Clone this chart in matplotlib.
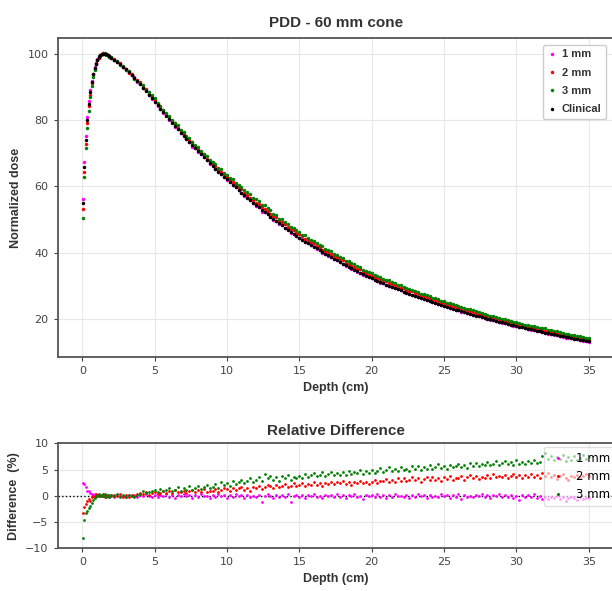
import numpy as np
import matplotlib
matplotlib.use('Agg')
import matplotlib.pyplot as plt

# Depth sampling (cm): fine in build-up, 2 mm afterwards
depth = np.concatenate([np.round(np.arange(0.05, 1.9, 0.1), 2),
                        np.round(np.arange(2.0, 35.01, 0.2), 1)])

# Clinical PDD (normalized dose)
clinical = np.array([
    54.9, 65.9, 73.9, 80.0, 84.8, 88.5, 91.5, 93.8, 95.6, 97.0,
    98.1, 98.9, 99.5, 99.85, 100.0, 100.0, 99.8, 99.5, 99.2,
    98.8, 98.2, 97.6, 96.9, 96.1, 95.3, 94.5, 93.6, 92.7, 91.8, 90.8, 89.8, 88.7, 87.7, 86.6,
    85.5, 84.4, 83.3, 82.3, 81.2, 80.2, 79.2, 78.2, 77.2, 76.2, 75.2, 74.3, 73.3, 72.4, 71.5,
    70.6, 69.7, 68.8, 67.9, 67.0, 66.2, 65.4, 64.5, 63.7, 62.9,
    62.1, 61.3, 60.5, 59.7, 58.9, 58.1, 57.4, 56.6, 55.9, 55.1, 54.4, 53.7, 53.0, 52.3, 51.6,
    50.9, 50.2, 49.6, 48.9, 48.3, 47.6, 47.0, 46.4, 45.8, 45.2,
    44.6, 44.0, 43.4, 42.9, 42.3, 41.8, 41.3, 40.7, 40.2, 39.7, 39.2, 38.7, 38.2, 37.7, 37.2,
    36.7, 36.2, 35.8, 35.3, 34.9, 34.4, 34.0, 33.5, 33.1, 32.7,
    32.3, 31.9, 31.5, 31.1, 30.8, 30.4, 30.1, 29.7, 29.4, 29.0, 28.7, 28.3, 28.0, 27.7, 27.4,
    27.0, 26.7, 26.4, 26.1, 25.8, 25.5, 25.2, 24.9, 24.6, 24.3,
    24.0, 23.8, 23.5, 23.2, 22.9, 22.7, 22.4, 22.1, 21.9, 21.6, 21.4, 21.1, 20.9, 20.6, 20.4,
    20.1, 19.9, 19.7, 19.4, 19.2, 19.0, 18.8, 18.5, 18.3, 18.1,
    17.9, 17.7, 17.5, 17.3, 17.1, 16.9, 16.7, 16.5, 16.3, 16.1, 15.9, 15.7, 15.5, 15.4, 15.2,
    15.0, 14.8, 14.6, 14.5, 14.3, 14.1, 14.0, 13.8, 13.6, 13.5, 13.3])

# Relative difference to clinical (%)
diff_1mm = np.array([
    2.4, 2.3, 1.6, 1.0, 1.0, 0.6, 0.4, 0.2, 0.3, 0.1, 0.2, -0.1, 0.1, 0.0, 0.2, -0.1, 0.1, 0.0, -0.2,
    0.1, -0.2, 0.2, -0.1, 0.0,   -0.2, 0.1, -0.1, 0.2, -0.3,   0.2, -0.1, 0.3, 0.0, -0.2,
    0.1, -0.3, 0.2, -0.1, 0.3,   -0.2, 0.1, -0.4, 0.2, 0.0,    0.3, -0.1, 0.1, -0.5, 0.2,
    -0.2, 0.3, -0.1, 0.0, -0.4,  0.2, -0.3, 0.4, -0.1, 0.1,    -0.4, 0.2, -0.2, 0.3, -0.1,
    0.1, -0.5, 0.2, -0.2, 0.0,   -0.3, 0.2, -1.2, -0.1, 0.3,   0.0, -0.4, 0.2, -0.2, 0.1,
    -0.3, 0.3, -1.1, -0.1, 0.2,  -0.2, 0.1, -0.4, 0.2, -0.1,   0.3, -0.2, 0.0, -0.5, 0.1,
    -0.1, 0.2, -0.3, 0.4, -0.2,  0.1, -0.4, 0.2, -0.1, 0.3,    -0.3, 0.0, -0.6, 0.2, -0.1,
    0.2, -0.2, 0.4, -0.3, 0.1,   -0.5, 0.1, -0.2, 0.3, -0.1,   0.0, -0.3, 0.2, -0.4, 0.1,
    -0.2, 0.3, -0.1, 0.1, -0.5,  0.2, -0.2, 0.0, -0.3, 0.3,    -0.1, 0.2, -0.4, 0.1, -0.2,
    0.3, -0.6, 0.1, -0.2, 0.0,   -0.3, 0.2, -0.1, 0.4, -0.2,   0.1, -0.4, 0.2, -0.1, 0.3,
    -0.2, 0.1, -0.3, 0.2, -0.5,  0.0, -0.8, 0.2, -0.3, 0.1,    -0.2, 0.3, -0.4, 0.0, -0.6,
    -0.3, -0.7, -0.2, -0.5, -0.1, -0.6, -0.3, -0.9, -0.4, -0.2, -0.5, -0.8, -0.3, -0.6, -0.4,
    -0.5])
diff_2mm = np.array([
    -3.3, -2.2, -1.6, -1.0, -0.6, -1.0, -0.3, 0.0, -0.2, 0.3, 0.1, -0.1, 0.2, 0.0, 0.3, -0.2, 0.1, 0.2, 0.0,
    -0.1, 0.2, 0.0, 0.3, -0.2,   0.1, -0.2, 0.2, -0.1, 0.4,    0.6, 0.3, 0.7, 0.2, 0.5,
    0.8, 0.4, 0.6, 1.0, 0.5,     0.9, 0.6, 1.1, 0.7, 0.8,      1.0, 0.6, 0.9, 1.2, 0.7,
    1.1, 0.8, 1.3, 0.7, 1.0,     0.9, 1.3, 0.8, 1.2, 1.4,      1.3, 0.9, 1.5, 1.1, 1.4,
    1.7, 1.2, 1.5, 1.0, 1.6,     1.4, 1.9, 1.3, 1.7, 2.0,      1.8, 1.5, 2.1, 1.6, 1.9,
    2.2, 1.7, 1.9, 2.4, 1.8,     2.1, 2.5, 1.9, 2.3, 2.0,      2.6, 2.1, 2.4, 1.9, 2.5,
    2.3, 2.7, 2.2, 2.6, 2.4,     2.8, 2.3, 2.6, 2.1, 2.7,      2.5, 2.9, 2.4, 2.7, 2.2,
    2.6, 3.0, 2.5, 2.9, 2.8,     3.2, 2.6, 3.0, 2.7, 3.3,      2.9, 3.4, 2.8, 3.1, 3.5,
    3.0, 3.3, 2.7, 3.2, 3.6,     3.1, 3.5, 3.0, 3.4, 2.9,      3.6, 3.2, 3.8, 3.1, 3.4,
    3.3, 3.7, 3.0, 3.5, 3.9,     3.4, 3.8, 3.2, 3.6, 3.3,      3.9, 3.4, 4.1, 3.5, 3.7,
    3.5, 3.9, 3.3, 3.8, 4.2,     3.6, 4.0, 3.4, 3.9, 3.5,      4.1, 3.6, 3.9, 3.3, 4.4,
    3.8, 4.3, 3.5, 3.9, 3.2,     3.7, 4.1, 3.4, 3.0, 3.8,      3.5, 4.0, 3.3, 3.7, 4.1,
    3.8])
diff_3mm = np.array([
    -8.1, -4.6, -3.2, -2.8, -2.4, -1.9, -1.3, -0.8, -0.5, -0.1, 0.0, 0.3, -0.1, 0.2, 0.0, 0.3, -0.2, 0.1, -0.3,
    0.2, -0.1, 0.3, -0.3, 0.1,   -0.2, 0.2, 0.0, -0.3, 0.1,    0.4, 0.9, 0.5, 0.8, 1.0,
    1.2, 0.8, 1.3, 0.9, 1.1,     1.4, 0.9, 1.2, 1.6, 1.0,      1.5, 1.1, 1.8, 1.2, 1.4,
    1.9, 1.3, 1.6, 2.0, 1.4,     1.7, 2.2, 1.5, 2.6, 2.0,      2.4, 1.9, 2.8, 2.2, 2.6,
    3.0, 2.5, 2.9, 3.3, 2.7,     3.1, 3.6, 2.9, 4.1, 3.4,      3.7, 3.1, 3.5, 2.9, 3.8,
    3.3, 3.9, 3.0, 3.6, 3.4,     3.8, 3.3, 4.2, 3.6, 3.9,      4.3, 3.7, 4.0, 4.5, 3.8,
    4.1, 4.6, 3.9, 4.4, 4.0,     4.5, 4.0, 4.8, 4.2, 4.6,      4.3, 4.9, 4.1, 4.7, 4.4,
    5.0, 4.4, 4.8, 5.3, 4.6,     4.9, 5.4, 4.7, 5.1, 4.8,      5.5, 4.9, 5.2, 4.7, 5.6,
    5.1, 5.7, 5.0, 5.4, 5.2,     5.8, 5.2, 5.5, 6.0, 5.3,      5.6, 5.1, 5.9, 5.4, 5.7,
    6.1, 5.5, 5.8, 5.3, 6.2,     5.7, 6.3, 5.6, 6.0, 5.8,      6.4, 5.8, 6.1, 6.6, 5.9,
    6.2, 6.7, 6.0, 6.4, 5.9,     6.8, 6.1, 6.5, 6.0, 6.6,      6.3, 6.9, 6.2, 6.5, 7.6,
    8.2, 7.1, 7.6, 6.8, 7.4,     7.0, 7.7, 6.6, 7.3, 6.9,      7.5, 6.8, 7.2, 7.8, 7.0,
    7.4])

labels = ['1 mm', '2 mm', '3 mm']
colors = ['magenta', 'red', 'green']
diffs = [diff_1mm, diff_2mm, diff_3mm]

title_font = {'family': 'Liberation Sans', 'weight': 'bold', 'color': '#333333'}
spine_col = '#555555'
tick_col = '#444444'


def style_axes(ax):
    for s in ax.spines.values():
        s.set_color(spine_col)
        s.set_linewidth(1.3)
    ax.grid(True, color='#e8e8e8', linewidth=0.8)
    ax.set_axisbelow(True)
    ax.tick_params(labelsize=8, colors=tick_col, length=3, width=0.8)


fig = plt.figure(figsize=(6.12, 5.91), dpi=100)
ax1 = fig.add_axes([0.0943, 0.3954, 0.909, 0.5395])
ax2 = fig.add_axes([0.0943, 0.0722, 0.909, 0.1777])

# PDD
for lab, col, d in zip(labels, colors, diffs):
    ax1.plot(depth, clinical * (1 + d / 100.0), 'o', ms=2.5, mew=0, color=col, label=lab)
ax1.plot(depth, clinical, 'o', ms=2.5, mew=0, color='black', label='Clinical')
ax1.set_xlim(-1.7, 36.75)
ax1.set_ylim(8.5, 104.6)
ax1.set_xticks(np.arange(0, 36, 5))
ax1.set_yticks([20, 40, 60, 80, 100])
style_axes(ax1)
ax1.set_title('PDD - 60 mm cone', fontdict=title_font, fontsize=11, pad=8)
ax1.set_xlabel('Depth (cm)', fontdict=title_font, fontsize=9)
ax1.set_ylabel('Normalized dose', fontdict=title_font, fontsize=9)
leg1 = ax1.legend(loc='upper right', bbox_to_anchor=(606 / 612, 1 - 45 / 591),
                  bbox_transform=fig.transFigure, borderaxespad=0, markerscale=1.0,
                  prop={'family': 'Liberation Sans', 'weight': 'bold', 'size': 8},
                  handlelength=0.8, handletextpad=0.5, labelspacing=0.75,
                  edgecolor='#cccccc', framealpha=1)
for t in leg1.get_texts():
    t.set_color('#333333')

# Relative difference
ax2.axhline(0, color='black', linestyle=':', linewidth=1)
for lab, col, d in zip(labels, colors, diffs):
    ax2.plot(depth, d, 'o', ms=2.0, mew=0, color=col, label=lab)
ax2.set_xlim(-1.7, 36.75)
ax2.set_ylim(-10, 10)
ax2.set_xticks(np.arange(0, 36, 5))
ax2.set_yticks([-10, -5, 0, 5, 10])
style_axes(ax2)
ax2.set_title('Relative Difference', fontdict=title_font, fontsize=11, pad=6)
ax2.set_xlabel('Depth (cm)', fontdict=title_font, fontsize=9)
ax2.set_ylabel('Difference  (%)', fontdict=title_font, fontsize=9)
leg2 = ax2.legend(loc='upper left', bbox_to_anchor=(544 / 612, 1 - 447 / 591),
                  bbox_transform=fig.transFigure, borderaxespad=0, markerscale=1.1,
                  prop={'size': 8.5}, handlelength=1.5, handletextpad=0.8,
                  labelspacing=0.45, framealpha=0.6, edgecolor='#cccccc')

fig.savefig('out.png', dpi=100)
